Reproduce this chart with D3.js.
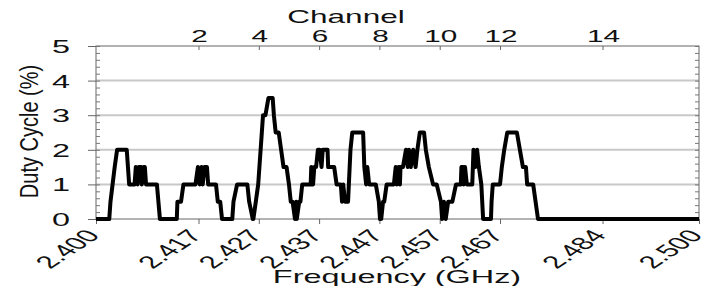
<!DOCTYPE html>
<html>
<head>
<meta charset="utf-8">
<script src="https://cdn.jsdelivr.net/npm/d3@7"></script>
<style>
  body { margin: 0; background: #fff; }
  text { font-family: "Liberation Sans", Arial, sans-serif; fill: #111; }
</style>
</head>
<body>
<div id="wrapper"></div>
<script>
// frequency in MHz, duty cycle in %
const freqMHz = [
  2400.0, 2402.2, 2402.4, 2403.1, 2403.5, 2405.1, 2405.5, 2406.4, 2406.6, 2406.9,
  2407.1, 2407.5, 2407.6, 2407.9, 2408.1, 2408.3, 2410.1, 2410.6, 2413.4, 2413.5,
  2414.1, 2414.5, 2416.5, 2416.9, 2417.2, 2417.5, 2417.7, 2418.0, 2418.4, 2418.6,
  2419.9, 2420.2, 2420.6, 2420.9, 2422.6, 2422.8, 2423.4, 2425.1, 2425.4, 2426.0,
  2426.1, 2426.5, 2426.9, 2427.5, 2427.7, 2428.1, 2428.6, 2429.3, 2429.5, 2429.8,
  2430.3, 2430.7, 2431.1, 2431.6, 2432.0, 2432.3, 2432.6, 2433.0, 2433.2, 2433.3,
  2433.7, 2433.9, 2434.2, 2435.6, 2435.7, 2436.0, 2436.2, 2436.5, 2436.8, 2437.1,
  2437.4, 2437.6, 2438.4, 2438.5, 2439.5, 2439.9, 2440.6, 2440.8, 2441.0, 2441.3,
  2441.8, 2442.2, 2442.5, 2444.3, 2444.5, 2444.8, 2445.0, 2445.3, 2445.6, 2446.4,
  2446.9, 2447.1, 2447.3, 2447.6, 2447.8, 2448.2, 2449.4, 2449.7, 2449.9, 2450.2,
  2450.4, 2450.5, 2450.9, 2451.4, 2451.7, 2451.9, 2452.2, 2452.6, 2453.0, 2453.3,
  2453.7, 2454.4, 2454.7, 2455.2, 2455.9, 2456.5, 2457.2, 2457.4, 2457.7, 2458.0,
  2458.4, 2459.1, 2459.7, 2460.5, 2460.6, 2460.9, 2461.0, 2461.2, 2461.5, 2462.4,
  2462.6, 2462.9, 2463.2, 2463.5, 2463.9, 2464.2, 2465.5, 2465.6, 2465.8, 2467.0,
  2467.3, 2467.7, 2468.2, 2469.8, 2470.3, 2470.8, 2471.3, 2471.5, 2472.5, 2472.9,
  2473.3, 2500.0
];
const dutyCycle = [
  0, 0, 0.5, 1.5, 2, 2, 1, 1, 1.5, 1,
  1.5, 1.5, 1, 1.5, 1.5, 1, 1, 0, 0, 0.5,
  0.5, 1, 1, 1.5, 1, 1.5, 1, 1.5, 1.5, 1,
  1, 0.5, 0.5, 0, 0, 0.5, 1, 1, 0.5, 0,
  0, 0.5, 1, 2.5, 3, 3, 3.5, 3.5, 3, 2.5,
  2.5, 2, 1.5, 1.5, 1, 0.5, 0.5, 0, 0.5, 0,
  0.5, 0.5, 1, 1, 1.5, 1, 1.5, 1.5, 2, 2,
  1.5, 2, 2, 1.5, 1.5, 1, 1, 0.5, 1, 0.5,
  0.5, 2, 2.5, 2.5, 1.5, 1, 1.5, 1, 1, 1,
  0.5, 0, 0, 0.5, 0.5, 1, 1, 1.5, 1, 1.5,
  1, 1.5, 1.5, 2, 1.5, 2, 1.5, 2, 1.5, 2,
  2.5, 2.5, 2, 1.5, 1, 1, 0.5, 0, 0.5, 0,
  0.5, 0.5, 1, 1, 1.5, 1.5, 1, 1.5, 1, 1,
  2, 1.5, 2, 1.5, 1, 0, 0, 0.5, 1, 1,
  1.5, 2, 2.5, 2.5, 2, 1.5, 1.5, 1, 1, 0.5,
  0, 0
];

const freqTicks = [2400, 2417, 2427, 2437, 2447, 2457, 2467, 2484, 2500];
const freqTickLabels = ["2.400", "2.417", "2.427", "2.437", "2.447", "2.457", "2.467", "2.484", "2.500"];
const channelTicks = [2417, 2427, 2437, 2447, 2457, 2467, 2484];
const channelLabels = ["2", "4", "6", "8", "10", "12", "14"];
const yTicks = [0, 1, 2, 3, 4, 5];
const yMinorTicks = d3.range(0, 5.01, 0.2);

const dataset = freqMHz.map((f, i) => ({ f: f, v: dutyCycle[i] }));

// the source figure has wide, horizontally stretched lettering
const SX = 1.8;

let dimensions = {
  width: 712,
  height: 286,
  margin: { top: 46, bottom: 67, left: 96, right: 13 },
};
dimensions.boundedWidth = dimensions.width - dimensions.margin.left - dimensions.margin.right;
dimensions.boundedHeight = dimensions.height - dimensions.margin.top - dimensions.margin.bottom;

const wrapper = d3.select("#wrapper")
  .append("svg")
  .attr("width", dimensions.width)
  .attr("height", dimensions.height);

const bounds = wrapper.append("g")
  .attr("transform", `translate(${dimensions.margin.left},${dimensions.margin.top})`);

const xScale = d3.scaleLinear().domain([2400, 2500]).range([0, dimensions.boundedWidth]);
const yScale = d3.scaleLinear().domain([0, 5]).range([dimensions.boundedHeight, 0]);

// grid lines
bounds.append("g")
  .selectAll("line")
  .data(yTicks.filter(d => d > 0 && d < 5))
  .join("line")
  .attr("x1", 0)
  .attr("x2", dimensions.boundedWidth)
  .attr("y1", d => yScale(d))
  .attr("y2", d => yScale(d))
  .attr("stroke", "#c8c8c8")
  .attr("stroke-width", 2);

// frame
bounds.append("rect")
  .attr("width", dimensions.boundedWidth)
  .attr("height", dimensions.boundedHeight)
  .attr("fill", "none")
  .attr("stroke", "#666")
  .attr("stroke-width", 1);

// left major ticks (outside) and minor ticks (inside)
bounds.append("g")
  .call(d3.axisLeft(yScale).tickValues(yTicks).tickSize(8).tickFormat(""))
  .call(g => g.select(".domain").remove())
  .selectAll("line").attr("stroke", "#666");

bounds.append("g")
  .call(d3.axisRight(yScale).tickValues(yMinorTicks).tickSize(4).tickFormat(""))
  .call(g => g.select(".domain").remove())
  .selectAll("line").attr("stroke", "#777");

bounds.append("g")
  .attr("transform", `translate(${dimensions.boundedWidth},0)`)
  .call(d3.axisLeft(yScale).tickValues(yMinorTicks).tickSize(4).tickFormat(""))
  .call(g => g.select(".domain").remove())
  .selectAll("line").attr("stroke", "#777");

// y tick labels
bounds.append("g")
  .selectAll("text")
  .data(yTicks)
  .join("text")
  .attr("transform", d => `translate(-26,${yScale(d) + 7}) scale(${SX},1)`)
  .attr("text-anchor", "end")
  .style("font-size", "18px")
  .text(d => d);

// bottom ticks
bounds.append("g")
  .attr("transform", `translate(0,${dimensions.boundedHeight})`)
  .call(d3.axisBottom(xScale).tickValues(freqTicks).tickSize(5).tickFormat(""))
  .call(g => g.select(".domain").remove())
  .selectAll("line").attr("stroke", "#666");

// bottom tick labels, rotated
bounds.append("g")
  .selectAll("text")
  .data(freqTicks)
  .join("text")
  .attr("transform", d =>
    `translate(${xScale(d) + 5},${dimensions.boundedHeight + 17}) scale(${SX},1) rotate(-50)`)
  .attr("text-anchor", "end")
  .style("font-size", "17.5px")
  .text((d, i) => freqTickLabels[i]);

// top channel ticks (inside) and labels
bounds.append("g")
  .call(d3.axisBottom(xScale).tickValues(channelTicks).tickSize(4).tickFormat(""))
  .call(g => g.select(".domain").remove())
  .selectAll("line").attr("stroke", "#666");

bounds.append("g")
  .selectAll("text")
  .data(channelTicks)
  .join("text")
  .attr("transform", d => `translate(${xScale(d) + 1},-4) scale(${SX},1)`)
  .attr("text-anchor", "middle")
  .style("font-size", "16.5px")
  .text((d, i) => channelLabels[i]);

// the trace
const lineGenerator = d3.line()
  .x(d => xScale(d.f))
  .y(d => yScale(d.v));

bounds.append("path")
  .datum(dataset)
  .attr("d", lineGenerator)
  .attr("fill", "none")
  .attr("stroke", "#000")
  .attr("stroke-width", 4)
  .attr("stroke-linejoin", "round");

// titles
wrapper.append("text")
  .attr("transform", `translate(346,23) scale(${SX},1)`)
  .attr("text-anchor", "middle")
  .style("font-size", "17.5px")
  .text("Channel");

wrapper.append("text")
  .attr("transform", `translate(397,283) scale(${SX},1)`)
  .attr("text-anchor", "middle")
  .style("font-size", "18px")
  .text("Frequency (GHz)");

wrapper.append("text")
  .attr("transform", `translate(38,${dimensions.margin.top + dimensions.boundedHeight / 2 - 1}) scale(1.3,1) rotate(-90)`)
  .attr("text-anchor", "middle")
  .style("font-size", "20px")
  .text("Duty Cycle (%)");
</script>
</body>
</html>
